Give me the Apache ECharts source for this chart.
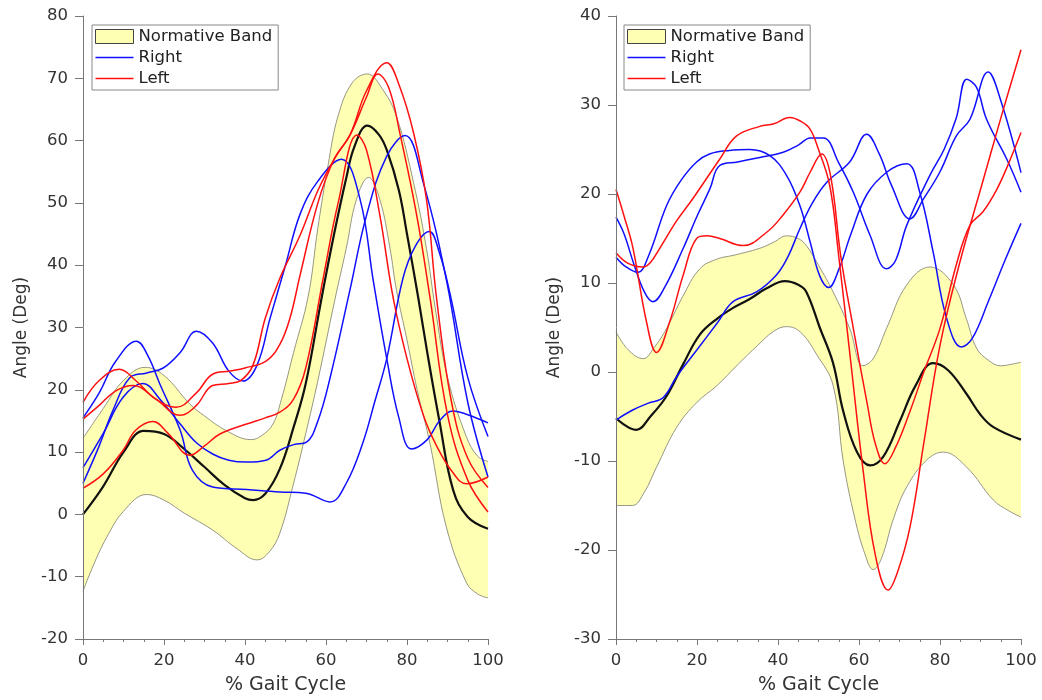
<!DOCTYPE html>
<html><head><meta charset="utf-8">
<script src="https://cdn.jsdelivr.net/npm/echarts@6/dist/echarts.min.js"></script>
<style>html,body{margin:0;padding:0;background:#fff}#c{width:1042px;height:700px}</style>
</head><body><div id="c"></div>
<script>
// ---------- data ----------
// Left panel (y -20..80)
const kneeUpper = [[0,12.2],[5,17],[10,21.5],[15.3,23.6],[20,22.3],[26.4,17.7],[30,15.8],[35.5,13.4],[41.5,12],[44,12.6],[46.9,14.5],[49,18.5],[52,26],[55.6,35],[58,46],[60.5,56],[63,64],[66.5,69.3],[70.2,70.7],[74,68.2],[77.4,63.9],[81.6,53.3],[84.8,42.7],[87,33],[90,22],[94.7,12.4],[97.5,9.3],[100,8.5]];
const kneeLower = [[0,-12.3],[3,-7.5],[6,-3.5],[10,0.5],[15.7,3.2],[20,2.3],[25,0.2],[32,-2.5],[38,-5.5],[43,-7.3],[46,-6],[48.6,-3],[52,5],[55,13],[58,21.5],[62.2,34.5],[65,42.7],[67.5,50.5],[70.5,54.1],[73.3,50.5],[75.8,42.7],[77.4,36],[80,28],[82.5,20],[85.7,11.3],[89.7,-2],[94.7,-11],[97.5,-12.8],[100,-13.4]];
const kneeMean = [[0,0],[5,4.5],[10,10],[15,13.4],[20,12.9],[25,10.5],[30,7.6],[35,4.7],[40,2.6],[42,2.3],[45,3.3],[48.6,7.3],[52,14],[55,21],[58.9,34.7],[62,45],[65,54],[67,59],[70.2,62.4],[73,61],[75,58.5],[78,52],[80,45],[82.8,34.7],[85,26],[88,15],[91.4,3.9],[95,-0.4],[100,-2.3]];
const kneeRight1 = [[0,15.5],[4,19.5],[8,24.5],[13.2,27.8],[16,25.5],[19,20.9],[24,13.5],[27,7.1],[32,4.4],[40.4,4],[48.6,3.6],[55,3.4],[61,2],[65,5],[69,11.3],[72,18],[75,25],[79,37.9],[82,43],[85.5,45.4],[88,42],[90.7,35.2],[95,22],[100,12.5]];
const kneeRight2 = [[0,7.5],[5,13],[9.9,18.8],[14.8,21],[19,18.5],[24,14.5],[28,11.5],[32,9.7],[36,8.7],[40.4,8.4],[45.2,8.7],[48.6,10.3],[52,11.2],[55.2,11.6],[58,15],[61,21.9],[65.9,36],[70,48],[75,57.5],[79.5,60.8],[84,53.3],[89.8,37.4],[95,18],[100,6]];
const kneeRight3 = [[0,5],[4,11],[7.4,16.7],[11.5,21.9],[15.7,22.7],[19.8,23.5],[24,26],[28,29.4],[32,27.5],[36,23],[39.5,21.4],[43,24],[46.2,31.5],[50,40],[53.6,48.2],[58,53.5],[63.8,57],[68.4,50.6],[71.7,37.4],[75,25],[78,15.5],[81.1,10.5],[85,12],[88,15],[91.4,16.6],[95,16],[100,14.7]];
const kneeLeft1 = [[0,18],[4,21.5],[9,23.3],[13,21.5],[18,18.5],[23,17.2],[28,19.5],[32,22.5],[36.3,23],[40,23.5],[45.2,24.6],[48.6,27.3],[51.1,31.5],[53.6,38.4],[58,50],[62,57],[66,61],[70,68],[75,72.5],[78,69],[81.6,61.3],[84.8,50.6],[87.3,34.7],[91,18],[95,9],[100,4.3]];
const kneeLeft2 = [[0,15.3],[4,17.5],[8,19.8],[12.3,20.7],[18,18.5],[24,15.9],[28,17.5],[32,20.7],[36,21],[39,21.5],[42,24],[45,31.5],[48.6,37.9],[53.6,44.8],[58,52],[62,57],[66,61],[70,67],[72.8,70.7],[75.5,68.5],[78.2,61.3],[82.4,48],[85.7,34.7],[90,16],[95,5.5],[100,0.4]];
const kneeLeft3 = [[0,4.2],[5,6.5],[9.9,10.3],[13,13.5],[17.3,14.9],[21,13],[26.4,9.5],[30,11],[33.8,12.9],[40.4,14.5],[45,15.5],[48.6,16.4],[52,18.5],[55,23.5],[59.3,37.9],[63,50],[67.7,60.9],[70,58.5],[73.3,48],[76.6,34.7],[80,25],[84,16],[87.3,11],[91,7],[94.7,4.9],[100,6]];

// Right panel (y -30..40)
const rotUpper = [[0,4.5],[3,2.5],[6.7,1.5],[9.5,2.8],[12.5,4.9],[16.5,8.5],[20.7,11.6],[25,12.7],[28.9,13.1],[35.5,13.9],[39,14.6],[42.1,15.3],[45,15],[47,14.2],[50,12],[53.6,9],[57.7,4.9],[61,0.7],[63.5,1.5],[66.8,4.9],[71.8,9.8],[77.5,11.8],[83.3,9.8],[86.5,6],[89,2.7],[92,1.3],[95,0.7],[98,0.9],[100,1.1]];
const rotLower = [[0,-15],[4,-15],[7,-13.5],[10,-10.7],[15,-6.2],[20,-3.4],[25,-1.5],[30,0.8],[35,3],[39,4.6],[42.1,5.1],[45.5,4.5],[49.5,2],[53.6,-1.5],[56.1,-10],[59,-16.5],[61.5,-20.5],[63.5,-22.2],[65.5,-21],[68.5,-16.5],[71.8,-12.9],[76.7,-9.9],[80.8,-9],[86.6,-10.7],[93.2,-14.4],[97,-15.6],[100,-16.3]];
const rotMean = [[0,-5.2],[5,-6.5],[8.5,-5],[12.5,-2.7],[16.5,0.8],[20.7,4.2],[25,6],[28.9,7.2],[33,8.2],[37.2,9.4],[41.7,10.2],[45,9.8],[47,9],[50.3,5],[53.6,1],[56.1,-4.4],[59.5,-9],[62.7,-10.5],[66,-9.5],[70.1,-5.5],[74,-1.5],[78.3,1],[82,0.2],[86.6,-2.5],[90,-4.8],[93.2,-6.2],[100,-7.6]];
const rotRight1 = [[0,17.4],[2,15.5],[4.5,12],[7,9],[9.1,7.9],[12,9.5],[16.6,13.9],[20,17.5],[23.2,20.6],[25.6,23.2],[30,23.6],[35.5,24.1],[41.3,24.7],[45,25.5],[48,26.3],[51.2,26.3],[55,23.5],[58.6,20.2],[62.7,15.4],[66.8,11.6],[69,12.5],[71.8,16.5],[77.5,22.1],[81,25],[84,28.5],[86.6,32.9],[89,32],[91.5,28.4],[96.5,23.9],[100,20.2]];
const rotRight2 = [[0,12.9],[2.5,11.8],[5.4,11.2],[8,13],[12.5,18.7],[16,21.5],[19.9,23.6],[23.1,24.5],[28,24.9],[33,25],[38,24.3],[42.1,22.1],[45.4,18.7],[48,14.5],[50.3,10.8],[52.5,9.5],[55,11.5],[58,15.5],[62,20],[67,22.5],[71.8,23.4],[75,20.2],[78.3,13.5],[81.6,6.1],[85.3,2.8],[88,3.8],[92,8],[96,12.5],[100,16.7]];
const rotRight3 = [[0,-5.4],[4,-4.3],[8,-3.5],[11.6,-2.9],[15,-0.5],[20,2.5],[25,5.5],[28.9,7.9],[34.7,9],[39.6,10.9],[42.5,13],[45.4,16.1],[48.5,19],[52,21.3],[57.7,23.6],[61.9,26.7],[65,24.5],[68,21],[72.6,17.2],[76,19.5],[80,22.5],[84,26.5],[87.4,28.4],[91.9,33.7],[95,30.5],[100,22.4]];
const rotLeft1 = [[0,20.5],[2,17.5],[4.2,13.9],[7.5,5.7],[10,2.2],[13.3,5.7],[16.6,10.9],[19.9,15],[22.5,15.3],[25.6,15],[31.4,14.2],[37.2,15.7],[41,17.5],[45.4,20.2],[48,22.5],[50.8,24.5],[53,22],[55.5,13],[58.6,4.9],[62,-3.5],[64,-8],[66.4,-10.3],[69,-8.5],[72.6,-4.4],[76,0],[80,4.9],[84,12],[87.4,16.5],[90.6,18],[94,20.5],[97,23.5],[100,26.9]];
const rotLeft2 = [[0,13.4],[3,12.2],[6.7,11.8],[8.5,12.3],[10.8,13.9],[15,17],[19,19.5],[25.6,23.9],[29.7,26.5],[35.5,27.6],[39,27.9],[42.9,28.6],[45.5,28.2],[47.9,27.3],[50,25],[52.8,20.9],[55,13],[58,1],[61,-11],[64,-20.5],[67.2,-24.5],[69.5,-22.5],[72.6,-17.4],[76,-8],[80,3],[85,12.5],[90,20.5],[95,28.5],[100,36.2]];

const yTicksLeft = {min:-20, max:80, interval:10};
const yTicksRight = {min:-30, max:40, interval:10};
const legendNames = ['Normative Band','Right','Left'];

// ---------- styling helpers ----------
const FONT = 'DejaVu Sans';
const BAND_FILL = '#ffffb3';
const BAND_EDGE = '#8a8a7a';
const BLUE = '#1010ff';
const RED = '#ff1010';
const LINE_ICON = 'path://M0,0H38V1.6H0Z';

// Band: upper curve filled yellow down to the axis minimum, lower curve
// filled white down to the axis minimum on top of it -> yellow between them.
function bandSeries(gi, lower, upper) {
  const common = {
    type:'line', name:'Normative Band', xAxisIndex:gi, yAxisIndex:gi,
    smooth:0.4, symbol:'none', silent:true,
    lineStyle:{color:BAND_EDGE, width:0.9}, itemStyle:{color:BAND_FILL}
  };
  return [
    Object.assign({}, common, {z:1, data: upper,
      areaStyle:{color:BAND_FILL, opacity:1, origin:'start'}}),
    Object.assign({}, common, {z:1.5, data: lower,
      areaStyle:{color:'#ffffff', opacity:1, origin:'start'}})
  ];
}
function lineSeries(gi, name, data, color, width, z) {
  return {type:'line', name, xAxisIndex:gi, yAxisIndex:gi, data, smooth:0.4,
    symbol:'none', lineStyle:{color, width}, itemStyle:{color}, z, silent:true};
}
function xAxisCfg(gi) {
  return {gridIndex:gi, type:'value', min:0, max:100, interval:20, z:10,
    axisLine:{show:true, onZero:false, lineStyle:{color:'#777', width:1}},
    axisTick:{show:true, length:6, lineStyle:{color:'#777'}},
    minorTick:{show:true, splitNumber:4, length:3, lineStyle:{color:'#777'}},
    splitLine:{show:false}, minorSplitLine:{show:false},
    axisLabel:{fontFamily:FONT, fontSize:16.5, color:'#333', margin:13},
    name:'% Gait Cycle', nameLocation:'middle', nameGap:37,
    nameTextStyle:{fontFamily:FONT, fontSize:19, color:'#333'}};
}
function yAxisCfg(gi, t) {
  return {gridIndex:gi, type:'value', min:t.min, max:t.max, interval:t.interval, z:10,
    axisLine:{show:true, onZero:false, lineStyle:{color:'#777', width:1}},
    axisTick:{show:true, length:8, lineStyle:{color:'#777'}},
    splitLine:{show:false},
    axisLabel:{fontFamily:FONT, fontSize:16.5, color:'#333', margin:15},
    name:'Angle (Deg)', nameLocation:'middle', nameGap:53, nameRotate:90,
    nameTextStyle:{fontFamily:FONT, fontSize:17, color:'#333'}};
}
function legendCfg(left) {
  return {show:true, orient:'vertical', left, top:25, itemWidth:38, itemHeight:14,
    itemGap:4, padding:[3,6,3,3], borderColor:'#888', borderWidth:1, backgroundColor:'#fff',
    textStyle:{fontFamily:FONT, fontSize:16.5, color:'#222'}, selectedMode:false, z:20,
    data:[
      {name:legendNames[0], icon:'rect', itemStyle:{color:BAND_FILL, borderColor:'#444', borderWidth:1}},
      {name:legendNames[1], icon:LINE_ICON, itemStyle:{color:BLUE, borderWidth:0}},
      {name:legendNames[2], icon:LINE_ICON, itemStyle:{color:RED, borderWidth:0}}
    ]};
}

const series = [].concat(
  bandSeries(0, kneeLower, kneeUpper),
  [lineSeries(0,'Mean',kneeMean,'#111',2.2,3)],
  [kneeRight1,kneeRight2,kneeRight3].map(d=>lineSeries(0,'Right',d,BLUE,1.5,4)),
  [kneeLeft1,kneeLeft2,kneeLeft3].map(d=>lineSeries(0,'Left',d,RED,1.5,5)),
  bandSeries(1, rotLower, rotUpper),
  [lineSeries(1,'Mean',rotMean,'#111',2.2,3)],
  [rotRight1,rotRight2,rotRight3].map(d=>lineSeries(1,'Right',d,BLUE,1.5,4)),
  [rotLeft1,rotLeft2].map(d=>lineSeries(1,'Left',d,RED,1.5,5))
);

const chart = echarts.init(document.getElementById('c'), null, {renderer:'canvas'});
chart.setOption({
  animation:false,
  backgroundColor:'#fff',
  grid:[
    {left:83, top:16, width:405, height:627},
    {left:616, top:16, width:405, height:627}
  ],
  xAxis:[xAxisCfg(0), xAxisCfg(1)],
  yAxis:[yAxisCfg(0, yTicksLeft), yAxisCfg(1, yTicksRight)],
  legend:[legendCfg(92), legendCfg(624)],
  series
});
</script>
</body></html>
